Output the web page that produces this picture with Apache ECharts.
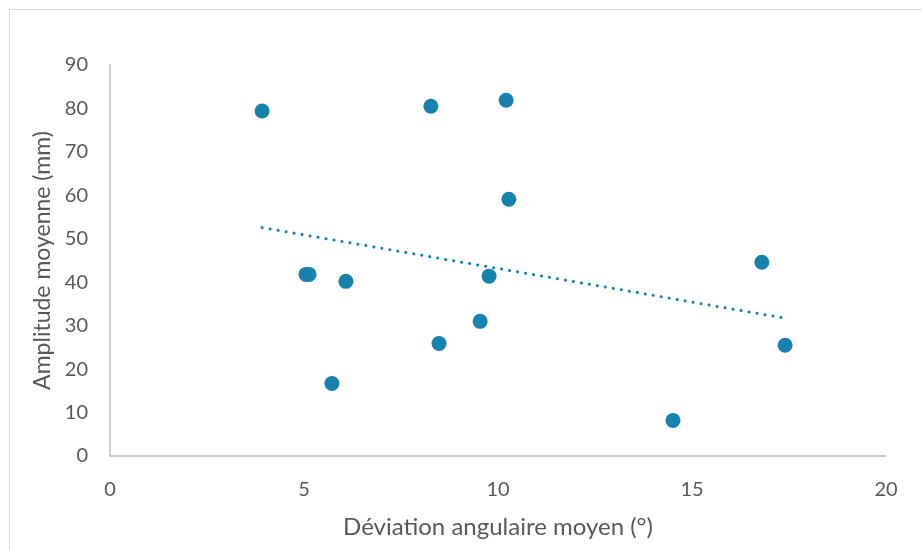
<!DOCTYPE html>
<html><head><meta charset="utf-8">
<script src="https://cdn.jsdelivr.net/npm/echarts@6/dist/echarts.min.js"></script>
<style>html,body{margin:0;padding:0;background:#fff}#c{width:922px;height:550px}</style>
</head><body><div id="c"></div>
<script>
const xValues = [3.92, 5.05, 5.13, 6.08, 5.72, 8.27, 8.48, 9.54, 9.77, 10.21, 10.28, 14.51, 16.8, 17.4];
const yValues = [79.4, 41.8, 41.8, 40.2, 16.7, 80.5, 25.9, 31.0, 41.4, 81.9, 59.1, 8.2, 44.6, 25.5];
const xTitle = 'Déviation angulaire moyen (°)';
const yTitle = 'Amplitude moyenne (mm)';

const pts = xValues.map((x, i) => [x, yValues[i]]);
const n = xValues.length;
const mx = xValues.reduce((a, b) => a + b, 0) / n;
const my = yValues.reduce((a, b) => a + b, 0) / n;
let sxy = 0, sxx = 0;
for (let i = 0; i < n; i++) { sxy += (xValues[i] - mx) * (yValues[i] - my); sxx += (xValues[i] - mx) ** 2; }
const slope = sxy / sxx, icpt = my - slope * mx;
const xmin = Math.min(...xValues), xmax = Math.max(...xValues);
const trend = [[xmin, icpt + slope * xmin], [xmax, icpt + slope * xmax]];

const font = 'Lato, "Open Sans", sans-serif';
const chart = echarts.init(document.getElementById('c'));
chart.setOption({
  animation: false,
  graphic: [{ type: 'rect', shape: { x: 9.5, y: 9.5, width: 930, height: 560 }, style: { fill: 'none', stroke: '#d9d9d9', lineWidth: 1 }, silent: true }],
  grid: { left: 110, right: 36, top: 65, bottom: 94 },
  xAxis: {
    type: 'value', min: 0, max: 20, interval: 5,
    name: xTitle, nameLocation: 'middle', nameGap: 59,
    nameTextStyle: { fontFamily: font, fontSize: 24, color: '#595959' },
    axisLine: { show: true, lineStyle: { color: '#bfbfbf', width: 1.5 } },
    axisTick: { show: false }, splitLine: { show: false },
    axisLabel: { fontFamily: font, fontSize: 20, color: '#595959', margin: 24 }
  },
  yAxis: {
    type: 'value', min: 0, max: 90, interval: 10,
    name: yTitle, nameLocation: 'middle', nameGap: 56,
    nameTextStyle: { fontFamily: font, fontSize: 23, color: '#595959' },
    axisLine: { show: true, lineStyle: { color: '#bfbfbf', width: 1.5 } },
    axisTick: { show: false }, splitLine: { show: false },
    axisLabel: { fontFamily: font, fontSize: 20, color: '#595959', margin: 22 }
  },
  series: [
    { type: 'line', data: trend, showSymbol: false, symbol: 'none',
      lineStyle: { color: '#1782ad', width: 3, type: [0.1, 8], cap: 'round' }, z: 1 },
    { type: 'scatter', data: pts, symbolSize: 15, itemStyle: { color: '#1782ad', opacity: 1 }, z: 2 }
  ]
});
</script></body></html>
